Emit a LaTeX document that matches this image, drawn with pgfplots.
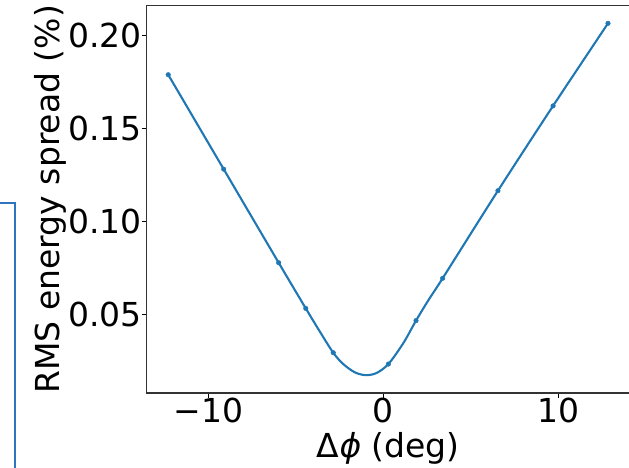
\documentclass[border=0pt]{standalone}
\usepackage{fontspec}
\setmainfont{DejaVu Sans}
\usepackage{pgfplots}
\pgfplotsset{compat=1.18}
\definecolor{tabblue}{HTML}{1F77B4}
\definecolor{strayblue}{RGB}{46,117,192}
\begin{document}
\begin{tikzpicture}
\begin{axis}[
  scale only axis,
  width=483.35pt, height=387.5pt,
  xmin=-13.52, xmax=14.1,
  ymin=0.0076, ymax=0.2164,
  clip=false,
  axis line style={black!80, line width=1.1pt},
  tick style={black, line width=1.1pt},
  tick align=outside,
  major tick length=4.9pt,
  xtick pos=bottom, ytick pos=left,
  xtick={-10,0,10}, xticklabels={−10,0,10},
  ytick={0.05,0.10,0.15,0.20}, yticklabels={0.05,0.10,0.15,0.20},
  ticklabel style={font=\fontsize{33}{40}\selectfont},
  xticklabel style={anchor=north, inner sep=0pt},
  yticklabel style={anchor=east, inner sep=0pt},
  xlabel={Δ{\itshape ϕ} (deg)},
  ylabel={RMS energy spread (\%)},
  label style={font=\fontsize{33}{40}\selectfont},
  xlabel style={at={(axis description cs:0.5,0)}, anchor=base, inner sep=0pt, yshift=-65pt},
  ylabel style={at={(axis description cs:0,0.5)}, rotate=0, anchor=south, inner sep=0pt, yshift=80pt},
]
% fitted curve
\addplot[tabblue, line width=2.1pt, smooth, tension=0.5] coordinates {
(-12.29,0.1791) (-9.12,0.1282) (-5.98,0.0778) (-4.43,0.0532) (-3.62,0.0406)
(-2.86,0.0293) (-2.29,0.0232) (-1.62,0.0187) (-0.99,0.0172) (-0.38,0.0184)
(0.29,0.0232) (1.14,0.0344) (1.87,0.0466) (2.57,0.0575) (3.39,0.0694)
(6.55,0.1166) (9.70,0.1623) (12.84,0.2068)
};
% measured points
\addplot[only marks, mark=*, mark size=2.3pt, color=tabblue] coordinates {
(-12.29,0.1791) (-9.12,0.1282) (-5.98,0.0778) (-4.43,0.0532) (-2.86,0.0293)
(0.29,0.0232) (1.87,0.0466) (3.39,0.0694) (6.55,0.1166) (9.70,0.1623) (12.84,0.2068)
};
% fragment of a neighbouring figure at the left edge
\addplot[strayblue, line width=2.2pt] coordinates {
(-22.6,0.1100) (-21.05,0.1100) (-21.05,-0.045)
};
\end{axis}
\pgfresetboundingbox
\path[use as bounding box] (-146.7pt,-75pt) rectangle (482.3pt,393pt);
\end{tikzpicture}
\end{document}
